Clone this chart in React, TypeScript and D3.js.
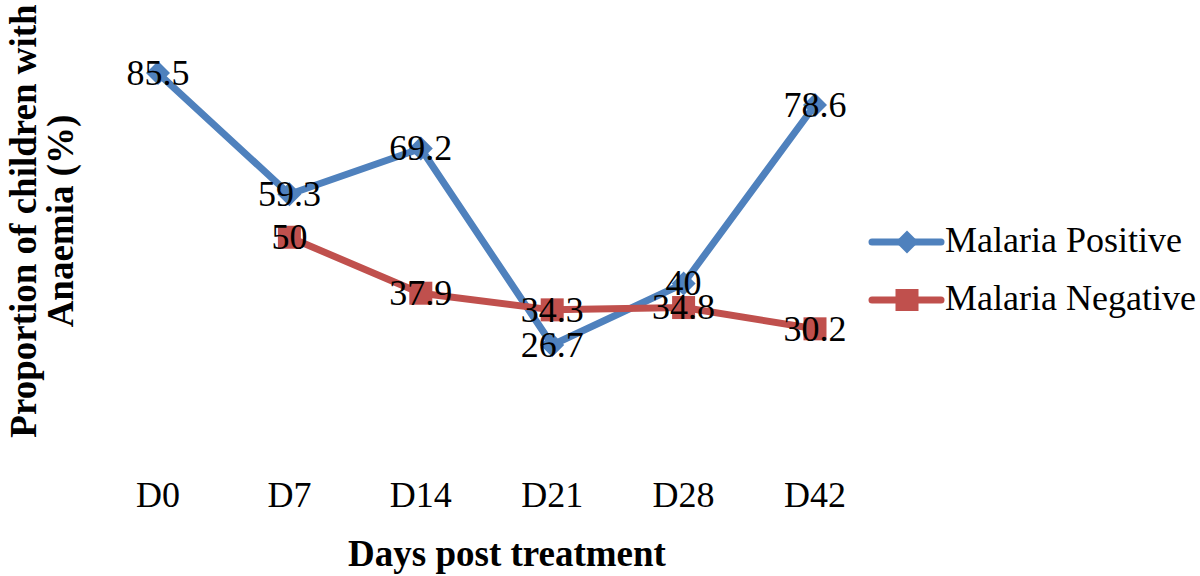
import React from "react";
import * as d3 from "d3";

const categories = ["D0", "D7", "D14", "D21", "D28", "D42"];
const positiveValues: (number | null)[] = [85.5, 59.3, 69.2, 26.7, 40, 78.6];
const negativeValues: (number | null)[] = [null, 50, 37.9, 34.3, 34.8, 30.2];
const seriesNames = ["Malaria Positive", "Malaria Negative"];
const seriesColors = ["#4F81BD", "#C0504D"];

const FONT = "'Liberation Serif', 'Times New Roman', Times, serif";

export default function App() {
  const W = 1200;
  const H = 576;
  const x = d3.scalePoint<string>().domain(categories).range([158, 815]);
  const y = d3.scaleLinear().domain([0, 100]).range([468.5, 6]);

  type P = { c: string; v: number };
  const toPts = (vals: (number | null)[]): P[] =>
    categories
      .map((c, i) => ({ c, v: vals[i] }))
      .filter((d) => d.v !== null) as P[];

  const pos = toPts(positiveValues);
  const neg = toPts(negativeValues);

  const line = d3
    .line<P>()
    .x((d) => x(d.c) as number)
    .y((d) => y(d.v));

  const diamond = (cx: number, cy: number, r: number) =>
    `M${cx},${cy - r}L${cx + r},${cy}L${cx},${cy + r}L${cx - r},${cy}Z`;

  const fmt = (v: number) => String(v);

  return (
    <svg
      width={W}
      height={H}
      style={{ position: "absolute", left: 0, top: 0, background: "#fff" }}
      fontFamily={FONT}
    >
      <rect width={W} height={H} fill="#fff" />
      {/* Positive series */}
      <path
        d={line(pos) || ""}
        fill="none"
        stroke={seriesColors[0]}
        strokeWidth={7}
        strokeLinejoin="round"
        strokeLinecap="round"
      />
      {pos.map((d) => (
        <path key={"dp" + d.c} d={diamond(x(d.c) as number, y(d.v), 12)} fill={seriesColors[0]} />
      ))}
      {/* Negative series */}
      <path
        d={line(neg) || ""}
        fill="none"
        stroke={seriesColors[1]}
        strokeWidth={7}
        strokeLinejoin="round"
        strokeLinecap="round"
      />
      {neg.map((d) => (
        <rect
          key={"sq" + d.c}
          x={(x(d.c) as number) - 11.5}
          y={y(d.v) - 11.5}
          width={23}
          height={23}
          fill={seriesColors[1]}
        />
      ))}
      {/* Data labels */}
      {pos.map((d) => (
        <text
          key={"lp" + d.c}
          x={x(d.c) as number}
          y={y(d.v)}
          dy="0.33em"
          textAnchor="middle"
          fontSize={36}
          fill="#000"
        >
          {fmt(d.v)}
        </text>
      ))}
      {neg.map((d) => (
        <text
          key={"ln" + d.c}
          x={x(d.c) as number}
          y={y(d.v)}
          dy="0.33em"
          textAnchor="middle"
          fontSize={36}
          fill="#000"
        >
          {fmt(d.v)}
        </text>
      ))}
      {/* X tick labels */}
      {categories.map((c) => (
        <text key={"t" + c} x={x(c) as number} y={507} textAnchor="middle" fontSize={36} fill="#000">
          {c}
        </text>
      ))}
      {/* X axis title */}
      <text x={507} y={566} textAnchor="middle" fontSize={37} fontWeight="bold" fill="#000">
        Days post treatment
      </text>
      {/* Y axis title */}
      <g transform="translate(36,221) rotate(-90)">
        <text x={0} y={0} textAnchor="middle" fontSize={37} fontWeight="bold" fill="#000">
          Proportion of children with
        </text>
        <text x={0} y={37} textAnchor="middle" fontSize={37} fontWeight="bold" fill="#000">
          Anaemia (%)
        </text>
      </g>
      {/* Legend */}
      {seriesNames.map((n, i) => {
        const ly = 242 + i * 58;
        return (
          <g key={"lg" + n}>
            <line
              x1={872}
              x2={941}
              y1={ly}
              y2={ly}
              stroke={seriesColors[i]}
              strokeWidth={7}
              strokeLinecap="round"
            />
            {i === 0 ? (
              <path d={diamond(907, ly, 11.5)} fill={seriesColors[i]} />
            ) : (
              <rect x={895.5} y={ly - 11} width={23} height={22} fill={seriesColors[i]} />
            )}
            <text x={945} y={ly + 10} fontSize={36} fill="#000">
              {n}
            </text>
          </g>
        );
      })}
    </svg>
  );
}
